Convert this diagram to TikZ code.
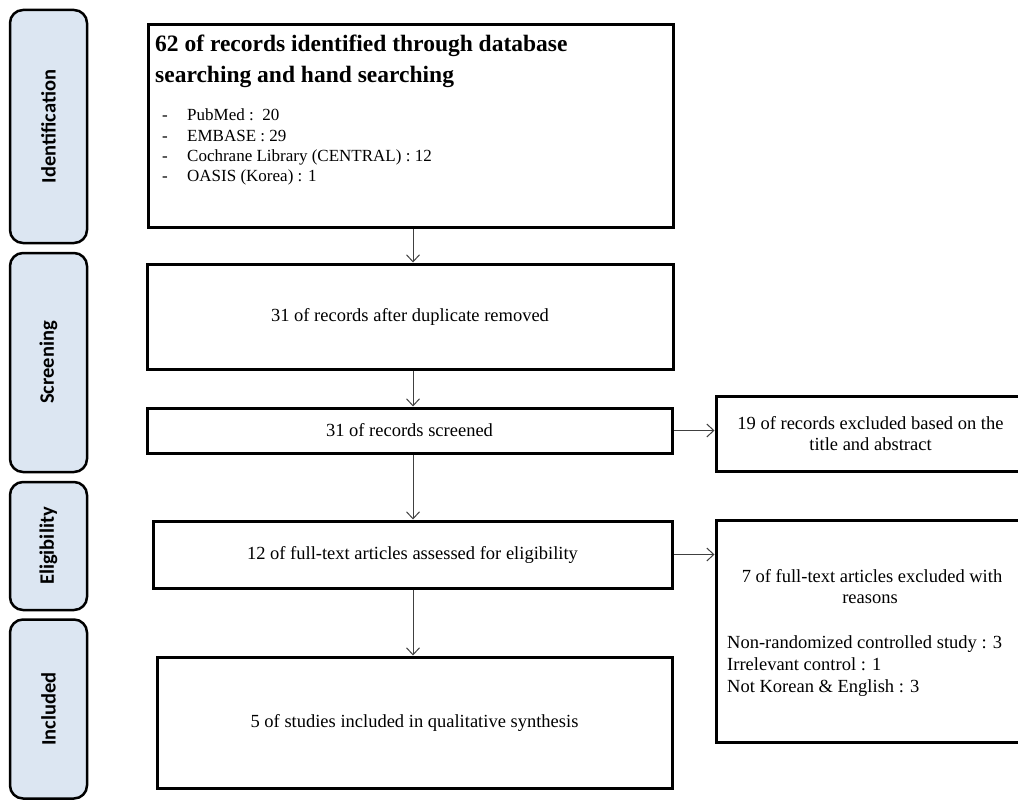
\documentclass[tikz,border=0pt]{standalone}
\usepackage{fontspec}
\usepackage{graphicx}
\setmainfont{Liberation Serif}
\newfontfamily\sidefont{Carlito}
\usetikzlibrary{arrows.meta}
\definecolor{sidefill}{RGB}{220,230,242}
\definecolor{arrgray}{RGB}{64,64,64}
\begin{document}
\begin{tikzpicture}[x=1pt,y=-1pt,
  side/.style={draw=black, line width=2.5pt, rounded corners=13pt, fill=sidefill, inner sep=0pt, minimum width=77pt, font=\sidefont\bfseries\fontsize{20.5}{22}\selectfont},
  flowbox/.style={draw=black, line width=3pt, fill=white, inner sep=0pt, align=center, font=\fontsize{18.5}{21.5}\selectfont},
  conn/.style={draw=arrgray, line width=1pt, -{Straight Barb[length=7pt,width=13pt]}},
  bodytext/.style={inner sep=0pt, anchor=base west, font=\fontsize{18.5}{21.5}\selectfont},
  listtext/.style={inner sep=0pt, anchor=base west, font=\fontsize{17}{20}\selectfont},
  titletext/.style={inner sep=0pt, anchor=base west, font=\bfseries\fontsize{23.5}{30}\selectfont}]
\useasboundingbox (0,0) rectangle (1018,800);

% phase sidebars
\node[side, minimum height=233pt] (sid) at (48.5,126.5) {\rotatebox{90}{Identification}};
\node[side, minimum height=219pt] (sscr) at (48.5,362.5) {\rotatebox{90}{Screening}};
\node[side, minimum height=128pt] (selig) at (48.5,546) {\rotatebox{90}{Eligibility}};
\node[side, minimum height=179pt] (sinc) at (48.5,709) {\rotatebox{90}{Included}};

% identification box
\node[flowbox, minimum width=525pt, minimum height=202pt] (b1) at (410.5,126) {};
\node[titletext] (t1) at (155,52) {62 of records identified through database};
\node[titletext] (t2) at (155,82) {searching and hand searching};
\node[listtext] (d1) at (162,121) {-};
\node[listtext] (d2) at (162,141.3) {-};
\node[listtext] (d3) at (162,161.6) {-};
\node[listtext] (d4) at (162,181.9) {-};
\node[listtext] (l1) at (187,121) {PubMed :\ \ 20};
\node[listtext] (l2) at (187,141.3) {EMBASE : 29};
\node[listtext] (l3) at (187,161.6) {Cochrane Library (CENTRAL) : 12};
\node[listtext] (l4) at (187,181.9) {OASIS (Korea) : 1};

% main flow
\node[flowbox, minimum width=526pt, minimum height=105pt] (b2) at (410,316.5) {31 of records after duplicate removed};
\node[flowbox, minimum width=525pt, minimum height=45pt] (b3) at (409.5,430.5) {31 of records screened};
\node[flowbox, minimum width=519pt, minimum height=67pt] (b4) at (412.5,554.5) {12 of full-text articles assessed for eligibility};
\node[flowbox, minimum width=515pt, minimum height=131pt] (b5) at (414.5,722.5) {5 of studies included in qualitative synthesis};

% exclusion boxes
\node[flowbox, minimum width=309pt, minimum height=75pt] (r1) at (870.5,433.5) {19 of records excluded based on the\\title and abstract};
\node[flowbox, minimum width=309pt, minimum height=222pt] (r2) at (870.5,631) {};
\node[inner sep=0pt, anchor=base, align=center, font=\fontsize{18.5}{21.5}\selectfont] (h1) at (872,582) {7 of full-text articles excluded with};
\node[inner sep=0pt, anchor=base, font=\fontsize{18.5}{21.5}\selectfont] (h2) at (870,603.5) {reasons};
\node[bodytext] (e1) at (727,648) {Non-randomized controlled study : 3};
\node[bodytext] (e2) at (727,670) {Irrelevant control : 1};
\node[bodytext] (e3) at (727,692) {Not Korean \& English : 3};

% connectors
\coordinate (vx) at (413,0);
\draw[conn] (b1.south -| vx) -- (b2.north -| vx);
\draw[conn] (b2.south -| vx) -- (b3.north -| vx);
\draw[conn] (b3.south -| vx) -- (b4.north -| vx);
\draw[conn] (b4.south -| vx) -- (b5.north -| vx);
\draw[conn] (b3.east) -- (r1.west |- b3.east);
\draw[conn] (b4.east) -- (r2.west |- b4.east);
\end{tikzpicture}
\end{document}
